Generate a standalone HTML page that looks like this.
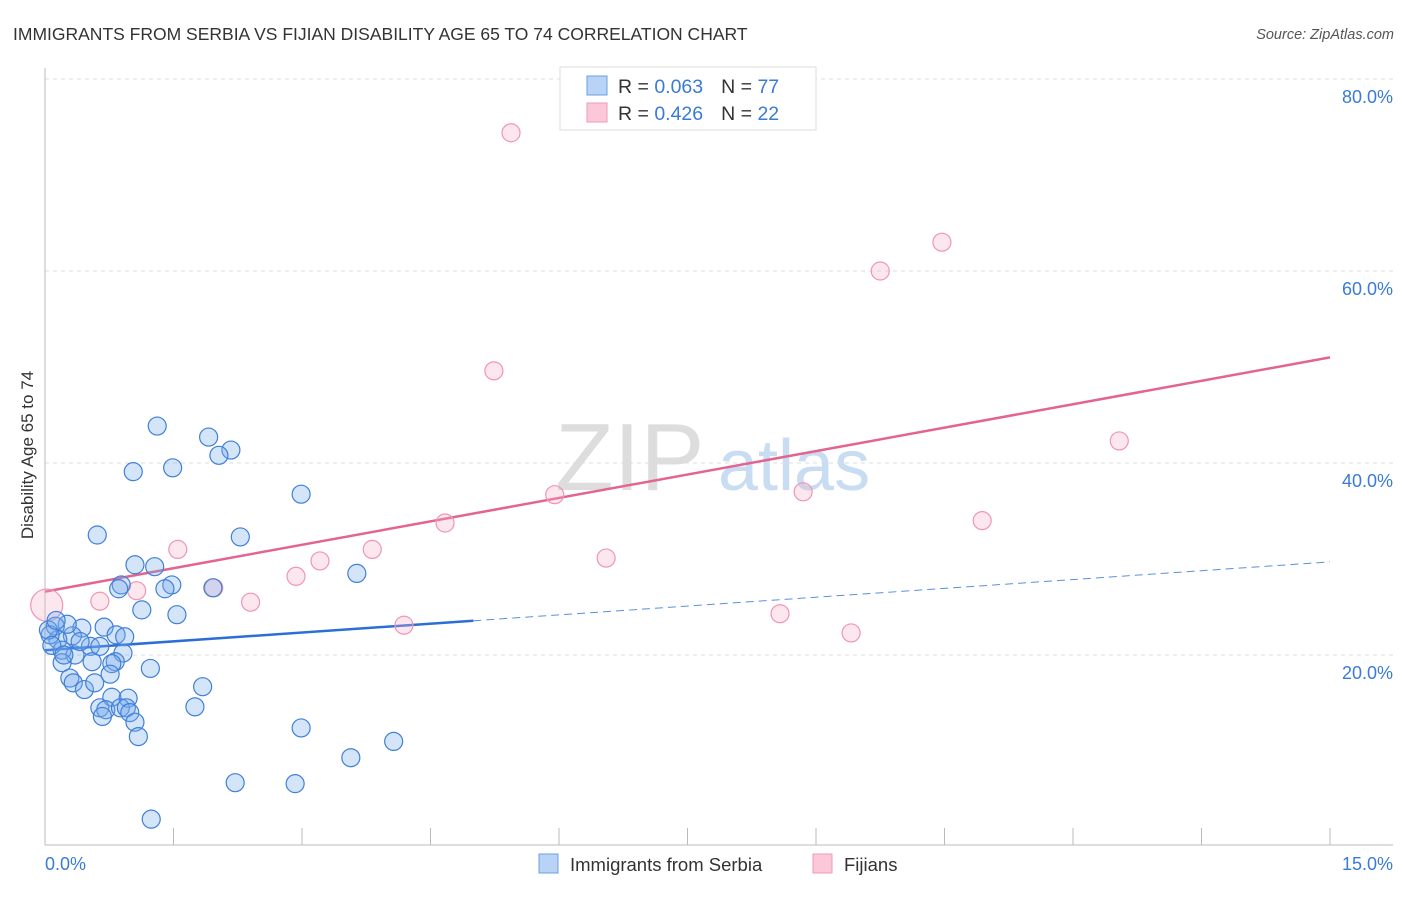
<!DOCTYPE html>
<html><head><meta charset="utf-8"><style>
body{margin:0;background:#fff;font-family:"Liberation Sans",sans-serif;}
svg text{font-family:"Liberation Sans",sans-serif;}
</style></head><body>
<svg width="1406" height="892" viewBox="0 0 1406 892">
<text x="13" y="40" font-size="17.5" fill="#333">IMMIGRANTS FROM SERBIA VS FIJIAN DISABILITY AGE 65 TO 74 CORRELATION CHART</text>
<text x="1394" y="39" font-size="14.5" fill="#555" font-style="italic" text-anchor="end">Source: ZipAtlas.com</text>
<g><text x="555" y="490" font-size="96" fill="#ddd" font-family="Liberation Serif,serif">ZIP</text><text x="718" y="490" font-size="72" fill="#c8dcf2">atlas</text></g>
<g id="grid"></g>
<g id="axes"></g>
<text transform="translate(33,455) rotate(-90)" font-size="17" fill="#333" text-anchor="middle">Disability Age 65 to 74</text>
<g id="trend"></g>
<g id="pts"></g>
<g>
<rect x="560" y="67" width="256" height="63" fill="#fff" stroke="#ddd"/>
<rect x="587" y="76" width="20" height="19" fill="#b8d3f5" stroke="#6a9fe0"/>
<rect x="587" y="103" width="20" height="19" fill="#fac8d8" stroke="#f09ab5"/>
<text x="618" y="93" font-size="19.5" fill="#333">R = <tspan fill="#3a7bd5">0.063</tspan><tspan dx="18">N = </tspan><tspan fill="#3a7bd5">77</tspan></text>
<text x="618" y="120" font-size="19.5" fill="#333">R = <tspan fill="#3a7bd5">0.426</tspan><tspan dx="18">N = </tspan><tspan fill="#3a7bd5">22</tspan></text>
</g>
<g>
<rect x="539" y="854" width="19" height="19" fill="#b8d3f5" stroke="#6a9fe0"/>
<text x="570" y="871" font-size="18.5" fill="#333">Immigrants from Serbia</text>
<rect x="813" y="854" width="19" height="19" fill="#fac8d8" stroke="#f09ab5"/>
<text x="844" y="871" font-size="18.5" fill="#333">Fijians</text>
</g>
</svg>
<script>
const xTicks=[0,1.5,3,4.5,6,7.5,9,10.5,12,13.5,15];
const yTicks=[20,40,60,80];
const serbiaX=[1.31,1.91,2.17,2.03,1.03,1.49,2.99,0.61,2.28,1.05,1.28,0.89,1.48,1.40,0.86,1.96,1.13,1.54,3.64,0.69,0.83,0.93,0.43,0.32,0.26,0.12,0.15,0.06,0.20,0.35,0.53,0.64,0.91,0.82,0.78,0.55,0.20,0.29,0.33,0.46,0.58,0.76,1.23,1.84,0.78,0.97,0.64,0.71,0.88,0.95,0.99,1.05,1.09,1.75,0.67,2.99,4.07,3.57,2.22,2.92,1.24,0.04,0.08,0.13,0.22,0.41];
const serbiaY=[43.85,42.7,41.35,40.8,39.1,39.5,36.75,32.5,32.3,29.4,29.2,27.3,27.3,26.9,26.9,27.0,24.7,24.2,28.5,22.9,22.1,21.9,22.8,22.0,23.2,23.0,21.6,22.1,20.5,20.0,20.9,20.9,20.2,19.3,19.1,19.3,19.2,17.6,17.1,16.4,17.1,18.0,18.6,16.7,15.6,15.5,14.5,14.3,14.5,14.5,14.0,13.0,11.5,14.6,13.6,12.4,11.0,9.3,6.7,6.6,2.9,22.6,21.0,23.6,20.0,21.4];
const fijiX=[5.44,10.47,9.75,5.24,12.54,5.95,8.85,4.67,10.94,1.55,3.82,3.21,6.55,2.93,1.07,0.64,1.97,2.40,4.19,8.58,9.41,0.02];
const fijiY=[74.4,63.0,60.0,49.6,42.3,36.7,37.0,33.75,34.0,31.0,31.0,29.8,30.1,28.2,26.7,25.6,27.0,25.5,23.1,24.3,22.3,25.2];
const serbiaTrend=[20.5,29.7];
const fijiTrend=[26.6,51.0];
const NS='http://www.w3.org/2000/svg';
const X=v=>45+v/15*1285, Y=v=>847-v*9.6;
function mk(t,a,p){const e=document.createElementNS(NS,t);for(const k in a)e.setAttribute(k,a[k]);p.appendChild(e);return e;}
const grid=document.getElementById('grid'),axes=document.getElementById('axes'),trend=document.getElementById('trend'),pts=document.getElementById('pts');
yTicks.forEach(t=>{
 const l=mk('line',{x1:45,x2:1393,y1:Y(t),y2:Y(t),stroke:'#ddd','stroke-dasharray':'4,4'},grid);
 
 
 const tx=mk('text',{x:1393,y:Y(t)+24,'font-size':18,fill:'#3a7bd5','text-anchor':'end'},axes);
 tx.textContent=t.toFixed(1)+'%';
 
 
});
const ax=mk('line',{x1:45,x2:1393,y1:845,y2:845,stroke:'#bbb'},axes);


const ay=mk('line',{x1:45,x2:45,y1:68,y2:845,stroke:'#bbb'},axes);


xTicks.forEach(t=>{if(t>0){const l=mk('line',{x1:X(t),x2:X(t),y1:828,y2:845,stroke:'#bbb'},axes);
 
 }});
[[0,'start',45],[15,'end',1393]].forEach(([v,a,x])=>{const tx=mk('text',{x:x,y:870,'font-size':18,fill:'#3a7bd5','text-anchor':a},axes);tx.textContent=v.toFixed(1)+'%';
 
 });
const sm=v=>serbiaTrend[0]+(serbiaTrend[1]-serbiaTrend[0])*v/15;
let l1=mk('line',{x1:X(0),y1:Y(sm(0)),x2:X(5),y2:Y(sm(5)),stroke:'#2b6fd6','stroke-width':2.5},trend);


let l2=mk('line',{x1:X(5),y1:Y(sm(5)),x2:X(15),y2:Y(sm(15)),stroke:'#5a8fde','stroke-width':1,'stroke-dasharray':'8,5'},trend);


let l3=mk('line',{x1:X(0),y1:Y(fijiTrend[0]),x2:X(15),y2:Y(fijiTrend[1]),stroke:'#e36490','stroke-width':2.5},trend);


fijiX.forEach((x,i)=>{const c=mk('circle',{cx:X(x),cy:Y(fijiY[i]),r:i==fijiX.length-1?16:9,fill:'rgba(246,175,200,0.3)',stroke:'#f095b3','stroke-width':1.2},pts);
 
 });
serbiaX.forEach((x,i)=>{const c=mk('circle',{cx:X(x),cy:Y(serbiaY[i]),r:9,fill:'rgba(120,170,235,0.32)',stroke:'#3f80d8','stroke-width':1.2},pts);
 
 });
</script>
</body></html>
